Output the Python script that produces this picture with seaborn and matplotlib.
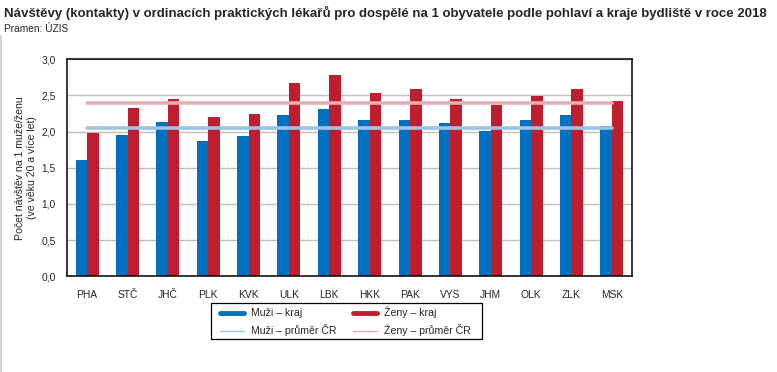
import matplotlib
matplotlib.use('Agg')
import matplotlib.pyplot as plt
import pandas as pd
import seaborn as sns
from matplotlib.lines import Line2D
from matplotlib.patches import Rectangle

kraje = ['PHA', 'STČ', 'JHČ', 'PLK', 'KVK', 'ULK', 'LBK', 'HKK', 'PAK', 'VYS', 'JHM', 'OLK', 'ZLK', 'MSK']
muzi_kraj = [1.61, 1.95, 2.13, 1.87, 1.94, 2.23, 2.31, 2.16, 2.16, 2.12, 2.01, 2.16, 2.23, 2.08]
zeny_kraj = [1.98, 2.33, 2.45, 2.20, 2.24, 2.67, 2.78, 2.53, 2.59, 2.45, 2.37, 2.49, 2.59, 2.42]
muzi_prumer = 2.05
zeny_prumer = 2.40

serie = ['Muži – kraj', 'Ženy – kraj']
yticks = [0.0, 0.5, 1.0, 1.5, 2.0, 2.5, 3.0]
ytick_labels = ['0,0', '0,5', '1,0', '1,5', '2,0', '2,5', '3,0']

title = 'Návštěvy (kontakty) v ordinacích praktických lékařů pro dospělé na 1 obyvatele podle pohlaví a kraje bydliště v roce 2018'

col_muzi = '#0070C0'
col_zeny = '#BE1E2D'
col_muzi_avg = '#9DC3E6'
col_zeny_avg = '#E6AEB2'

df = pd.DataFrame({
    'kraj': kraje * 2,
    'hodnota': muzi_kraj + zeny_kraj,
    'serie': [serie[0]] * len(kraje) + [serie[1]] * len(kraje),
})

sns.set_style('white')
plt.rcParams['font.family'] = ['Liberation Sans', 'DejaVu Sans']

fig = plt.figure(figsize=(7.77, 3.72), dpi=100)
ax = fig.add_axes([67 / 777, 1 - 276.3 / 372, (632 - 67) / 777, (276.3 - 59.3) / 372])

sns.barplot(data=df, x='kraj', y='hodnota', hue='serie', hue_order=serie,
            palette=[col_muzi, col_zeny], width=0.57, gap=0, saturation=1,
            edgecolor='none', linewidth=0, legend=False, ax=ax, zorder=2)

# průměry ČR
ax.plot(kraje, [muzi_prumer] * len(kraje), color=col_muzi_avg, lw=2.6, zorder=3)
ax.plot(kraje, [zeny_prumer] * len(kraje), color=col_zeny_avg, lw=2.6, zorder=3)

ax.set_xlim(-0.5, len(kraje) - 0.5)
ax.set_ylim(0, 3.0)
ax.set_yticks(yticks)
ax.set_yticklabels(ytick_labels, fontsize=7.4)
ax.yaxis.grid(True, color='#bfbfbf', lw=1, zorder=0)
ax.set_axisbelow(True)

ax.set_xticks([i - 0.5 for i in range(len(kraje) + 1)])
ax.set_xticklabels([])
ax.set_xticks(range(len(kraje)), minor=True)
ax.set_xticklabels(kraje, minor=True, fontsize=7.4)
ax.tick_params(axis='x', which='major', direction='out', length=3, width=0.9, color='black')
ax.tick_params(axis='x', which='minor', length=0, pad=10)
ax.tick_params(axis='y', direction='out', length=4, width=0.9, color='black', pad=4)
ax.set_xlabel('')
ax.set_ylabel('Počet návštěv na 1 muže/ženu\n(ve věku 20 a více let)', fontsize=7.6, linespacing=1.3, labelpad=3)

for s in ax.spines.values():
    s.set_color('black')
    s.set_linewidth(1.1)
    s.set_visible(True)

handles = [
    Line2D([0], [0], color=col_muzi, lw=3.5),
    Line2D([0], [0], color=col_muzi_avg, lw=1),
    Line2D([0], [0], color=col_zeny, lw=3.5),
    Line2D([0], [0], color=col_zeny_avg, lw=1),
]
labels = ['Muži – kraj', 'Muži – průměr ČR', 'Ženy – kraj', 'Ženy – průměr ČR']
fig.legend(handles, labels, ncol=2, loc='upper left',
           bbox_to_anchor=(220 / 777, 1 - 307 / 372), bbox_transform=fig.transFigure,
           fontsize=7.6, frameon=False, borderaxespad=0, borderpad=0,
           handlelength=2.3, handletextpad=0.6, columnspacing=1.6,
           labelspacing=0.55)
fig.add_artist(Rectangle((211 / 777, 1 - 339 / 372), (482 - 211) / 777, 36 / 372,
                         transform=fig.transFigure, fill=False, edgecolor='black', lw=0.9))

fig.text(4 / 777, 1 - 6 / 372, title, fontsize=9.5, fontweight='bold', ha='left', va='top')
fig.text(4 / 777, 1 - 24 / 372, 'Pramen: ÚZIS', fontsize=7.3, ha='left', va='top')

fig.add_artist(Line2D([0.5 / 777, 0.5 / 777], [0, 1 - 36 / 372], color='#cdd5e0', lw=1.5,
                      transform=fig.transFigure))

fig.savefig('out.png', dpi=100, facecolor='white')
